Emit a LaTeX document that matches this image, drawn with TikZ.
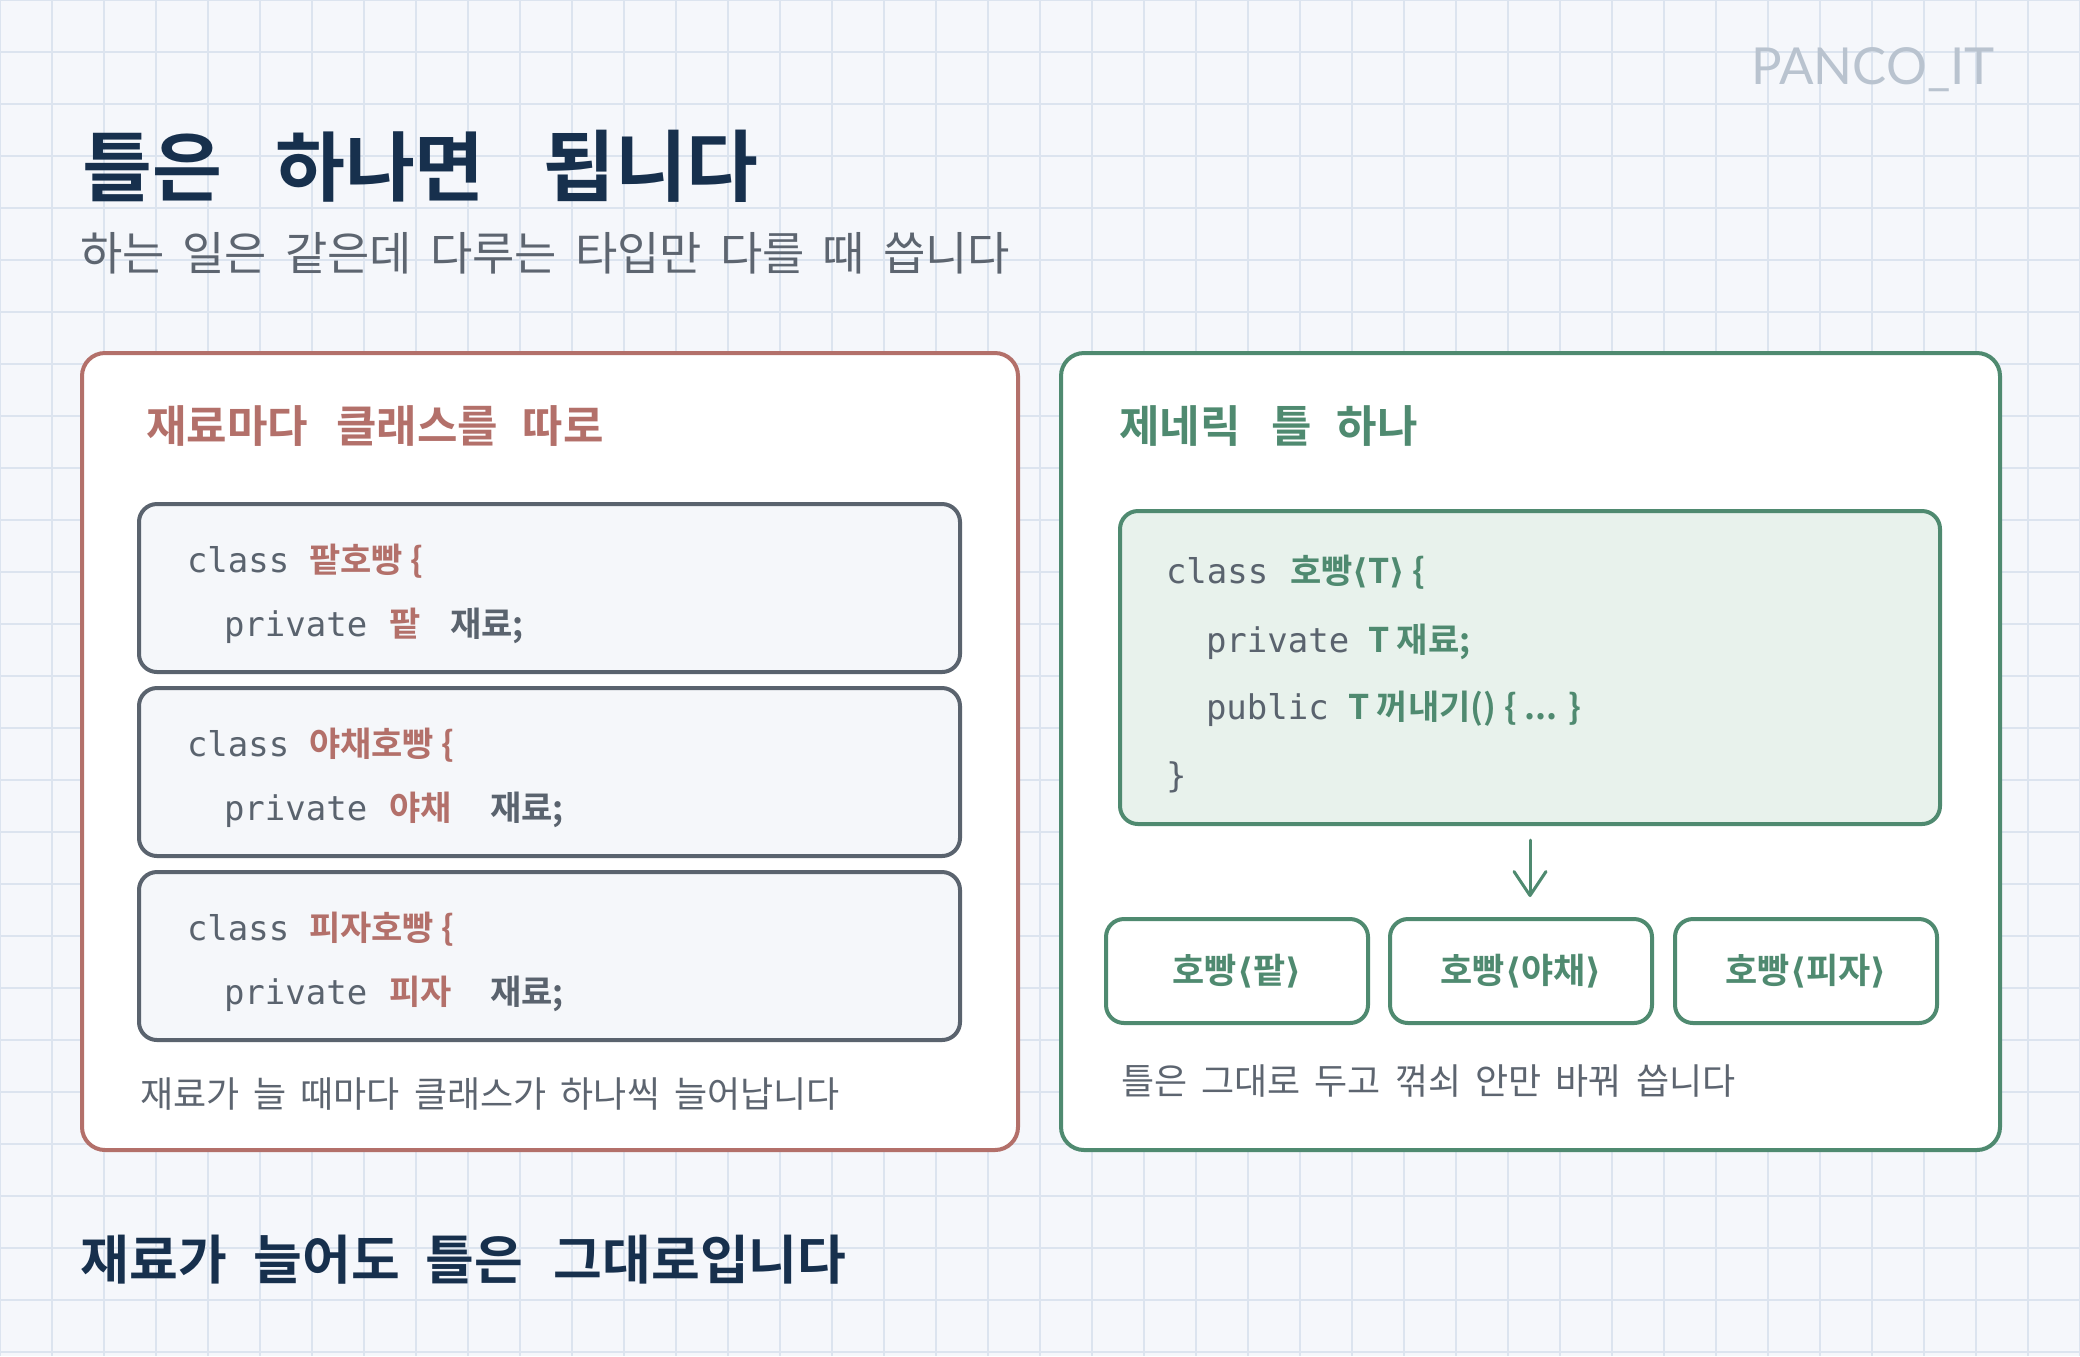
\documentclass[tikz,border=0pt]{standalone}
\usepackage{fontspec}
\usetikzlibrary{arrows.meta}
\newfontfamily\kr{Noto Sans CJK KR}[BoldFont={Noto Sans CJK KR Bold}]
\newfontfamily\krw{Noto Sans CJK KR}[WordSpace=2.0]
\newfontfamily\krs{Noto Sans CJK KR}[WordSpace=1.75]
\newfontfamily\mono{DejaVu Sans Mono}
\newfontfamily\dvs{DejaVu Sans}
\newfontfamily\lato{Lato}
\newcommand\myfs[1]{\fontsize{#1}{#1}\selectfont}
\newcommand\lb{{\dvs\bfseries ⟨}}
\newcommand\rb{{\dvs\bfseries ⟩}}
\definecolor{bg}{HTML}{F5F7FB}
\definecolor{gridc}{HTML}{DCE4EF}
\definecolor{navy}{HTML}{17304D}
\definecolor{subgray}{HTML}{5D6570}
\definecolor{brandc}{HTML}{B9C3CF}
\definecolor{redc}{HTML}{B3706A}
\definecolor{greenc}{HTML}{4F8A70}
\definecolor{codegray}{HTML}{5A636E}
\definecolor{codefill}{HTML}{F5F7FA}
\definecolor{genfill}{HTML}{E8F2EC}
\begin{document}
\begin{tikzpicture}[x=0.5pt,y=-0.5pt,
  txt/.style={inner sep=0pt, outer sep=0pt, anchor=base west},
  ctxt/.style={inner sep=0pt, outer sep=0pt, anchor=base},
  hand/.style={font={\kr\bfseries\myfs{#1}}},
  mtxt/.style={txt, font={\mono\myfs{17}}, text=codegray},
  ktxt/.style={txt, font={\kr\bfseries\myfs{17}}},
  panel/.style={draw=#1, line width=2pt, fill=white, rounded corners=11.5pt, inner sep=0pt},
  codebox/.style={draw=codegray, line width=2pt, fill=codefill, rounded corners=9pt, inner sep=0pt,
    minimum width=410.5pt, minimum height=84pt},
  genbox/.style={draw=greenc, line width=2pt, fill=genfill, rounded corners=9pt, inner sep=0pt},
  outbox/.style={draw=greenc, line width=2pt, fill=white, rounded corners=9pt, inner sep=0pt,
    minimum width=131pt, minimum height=52pt, text=greenc, font={\kr\bfseries\myfs{17.5}}},
  flow/.style={draw=greenc, line width=1.5pt, line cap=round,
    -{Straight Barb[length=12pt,width=16pt,line cap=round,line join=round]}},
]
\fill[bg] (0,0) rectangle (2080,1356);
\useasboundingbox (0,0) rectangle (2080,1356);
\foreach \i in {0,...,40} \draw[gridc, line width=0.6pt] (\i*52,0) -- (\i*52,1356);
\foreach \j in {0,...,26} \draw[gridc, line width=0.6pt] (0,\j*52) -- (2080,\j*52);

% brand
\node[ctxt, font={\lato\myfs{25.5}}, text=brandc] (brand) at (1873,84) {PANCO\_IT};

% title
\node[ctxt, hand=38, text=navy] (t1) at (152,195) {틀은};
\node[ctxt, hand=38, text=navy] (t2) at (380,195) {하나면};
\node[ctxt, hand=39, text=navy] (t3) at (651,195) {됩니다};
\node[txt, font={\krs\myfs{23}}, text=subgray] (sub) at (80,270) {하는 일은 같은데 다루는 타입만 다를 때 씁니다};

% left panel
\node[panel=redc, minimum width=468pt, minimum height=398.5pt] (lp) at (550,751.5) {};
\node[ctxt, hand=22, text=redc] (lh1) at (227,442) {재료마다};
\node[ctxt, hand=22, text=redc] (lh2) at (417,442) {클래스를};
\node[ctxt, hand=22, text=redc] (lh3) at (563,442) {따로};

\node[codebox] (b1) at (549.5,588) {};
\node[mtxt] (b1c) at (187,572) {class};
\node[ktxt, text=redc] (b1n) at (309,572) {팥호빵 \{};
\node[mtxt] (b1p) at (224,636) {private};
\node[ktxt, text=redc] (b1t) at (389,636) {팥};
\node[ktxt, text=codegray] (b1f) at (450,636) {재료;};

\node[codebox] (b2) at (549.5,772) {};
\node[mtxt] (b2c) at (187,756) {class};
\node[ktxt, text=redc] (b2n) at (309,756) {야채호빵 \{};
\node[mtxt] (b2p) at (224,820) {private};
\node[ktxt, text=redc] (b2t) at (389,820) {야채};
\node[ktxt, text=codegray] (b2f) at (490,820) {재료;};

\node[codebox] (b3) at (549.5,956) {};
\node[mtxt] (b3c) at (187,940) {class};
\node[ktxt, text=redc] (b3n) at (309,940) {피자호빵 \{};
\node[mtxt] (b3p) at (224,1004) {private};
\node[ktxt, text=redc] (b3t) at (389,1004) {피자};
\node[ktxt, text=codegray] (b3f) at (490,1004) {재료;};

\node[txt, font={\krw\myfs{18}}, text=subgray] (lcap) at (140,1107) {재료가 늘 때마다 클래스가 하나씩 늘어납니다};

% right panel
\node[panel=greenc, minimum width=469.5pt, minimum height=398.5pt] (rp) at (1530.5,751.5) {};
\node[ctxt, hand=22, text=greenc] (rh1) at (1180,442) {제네릭};
\node[ctxt, hand=22, text=greenc] (rh2) at (1292,442) {틀};
\node[ctxt, hand=22, text=greenc] (rh3) at (1377,442) {하나};

\node[genbox, minimum width=410pt, minimum height=156.5pt] (gen) at (1530,667.5) {};
\node[mtxt] (g1) at (1166,583) {class};
\node[ktxt, text=greenc] (g1n) at (1290,583) {호빵\lb T\rb\ \{};
\node[mtxt] (g2) at (1206,652) {private};
\node[ktxt, text=greenc] (g2n) at (1368,652) {T 재료;};
\node[mtxt] (g3) at (1206,719) {public};
\node[ktxt, text=greenc] (g3n) at (1348,719) {T 꺼내기() \{ ... \}};
\node[mtxt] (g4) at (1166,787) {\}};

\coordinate (aend) at (1530,897);
\draw[flow, shorten <=7pt] (gen.south) -- (aend);

\node[outbox] (o1) at (1237,971) {호빵\lb 팥\rb};
\node[outbox] (o2) at (1521,971) {호빵\lb 야채\rb};
\node[outbox] (o3) at (1806,971) {호빵\lb 피자\rb};

\node[txt, font={\krw\myfs{18}}, text=subgray] (rcap) at (1121,1094) {틀은 그대로 두고 꺾쇠 안만 바꿔 씁니다};

% bottom line
\node[ctxt, hand=26.5, text=navy] (f1) at (154,1279) {재료가};
\node[ctxt, hand=26.5, text=navy] (f2) at (327,1279) {늘어도};
\node[ctxt, hand=26.5, text=navy] (f3) at (474,1279) {틀은};
\node[ctxt, hand=26.5, text=navy] (f4) at (700,1279) {그대로입니다};
\end{tikzpicture}
\end{document}
